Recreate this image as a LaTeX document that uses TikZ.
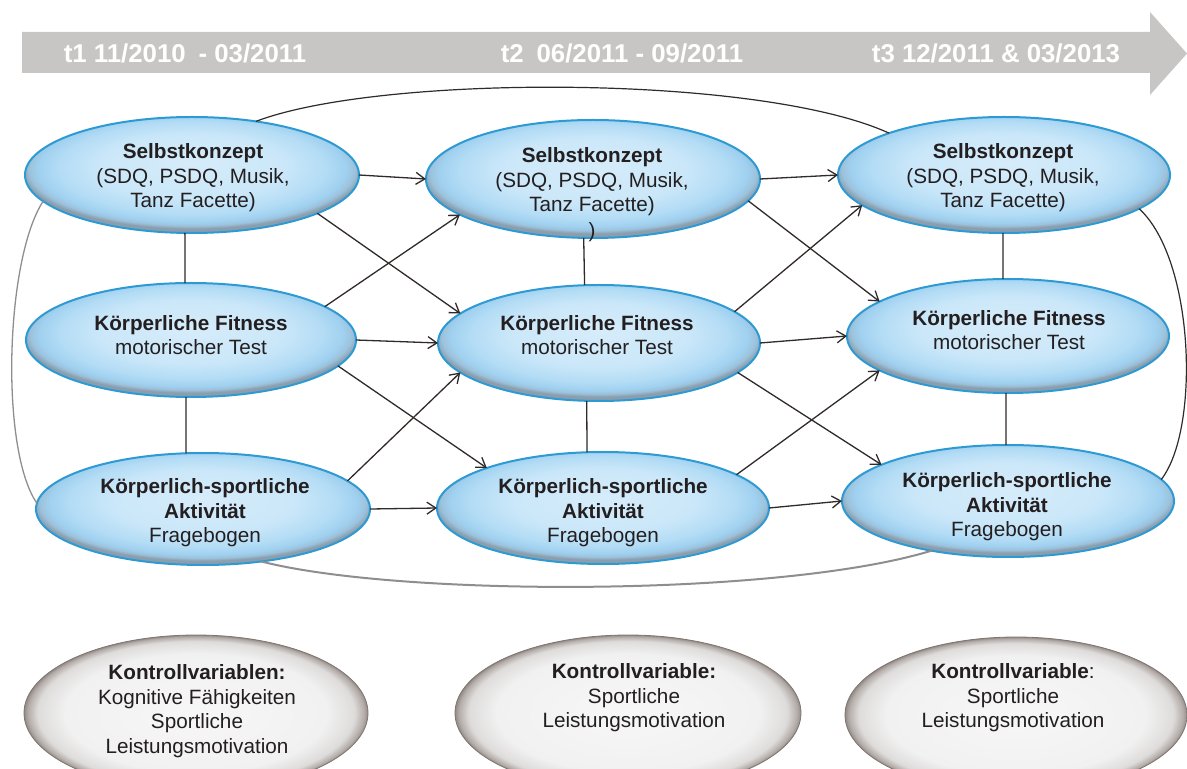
\documentclass[tikz,border=0pt]{standalone}
\usepackage{fontspec}
\setmainfont{Liberation Sans}
\usetikzlibrary{arrows.meta,shapes.geometric}

% palette
\definecolor{bandgray}{HTML}{C8C6C5}
\definecolor{txtcol}{HTML}{231F20}
\definecolor{linecol}{HTML}{302A28}
\definecolor{softgray}{HTML}{8E8E8E}
\definecolor{bBorder}{HTML}{2E9AD3}
\definecolor{bInner}{HTML}{D6ECFA}
\definecolor{bLight}{HTML}{CAE7F9}
\definecolor{bMid}{HTML}{B3DCF5}
\definecolor{bEdge}{HTML}{A0D1F0}
\definecolor{bRim}{HTML}{9CC2DC}
\definecolor{bShadow}{HTML}{8A9EAE}
\definecolor{gInner}{HTML}{F7F7F7}
\definecolor{gMid}{HTML}{F1F1F1}
\definecolor{gEdge}{HTML}{DEDCDB}
\definecolor{gDark}{HTML}{B5AEAA}
\definecolor{gShadow}{HTML}{837A76}
\definecolor{gBorder}{HTML}{7E7571}

% soft lit ellipses: light centre, shadowed lower rim
% (the central 50bp square of a shading is what fills the node)
\pgfdeclareradialshading{blueball}{\pgfpoint{0bp}{5bp}}{%
  color(0bp)=(bInner); color(14bp)=(bLight); color(20bp)=(bMid);
  color(23bp)=(bEdge); color(24.4bp)=(bRim); color(25.6bp)=(bShadow);
  color(50bp)=(bShadow)}
\pgfdeclareradialshading{grayball}{\pgfpoint{0bp}{0bp}}{%
  color(0bp)=(gInner); color(19bp)=(gMid); color(23bp)=(gEdge);
  color(24.4bp)=(gDark); color(25.3bp)=(gShadow); color(50bp)=(gShadow)}

\tikzset{
  blueell/.style={ellipse, draw=bBorder, line width=1pt, shading=blueball,
    inner sep=0pt, outer sep=0pt},
  grayell/.style={ellipse, draw=gBorder, line width=0.4pt, shading=grayball,
    inner sep=0pt, outer sep=0pt},
  txt/.style={align=center, text=txtcol, inner sep=0pt,
    font=\fontsize{10.35}{12.25}\selectfont},
  bandtxt/.style={text=white, inner sep=0pt,
    font=\fontsize{12.9}{15}\selectfont\bfseries},
  conn/.style={draw=linecol, line width=0.65pt,
    -{Straight Barb[length=4.5pt,width=6pt]}},
  link/.style={draw=linecol, line width=0.65pt},
  darkcurve/.style={draw=linecol, line width=0.6pt},
  softcurve/.style={draw=softgray, line width=0.65pt},
}

\begin{document}
\begin{tikzpicture}[x=0.5pt, y=-0.5pt]
\useasboundingbox (0,0) rectangle (1187,769);
\clip (0,0) rectangle (1187,769);

% time line banner
\fill[bandgray] (22,32) -- (1150,32) -- (1150,12) -- (1187,53.5)
  -- (1150,95) -- (1150,73) -- (22,73) -- cycle;
\node[bandtxt] (t1) at (185,53) {t1 11/2010\enspace - 03/2011};
\node[bandtxt] (t2) at (622,53) {t2\enspace 06/2011 - 09/2011};
\node[bandtxt] (t3) at (996,53) {t3 12/2011 \& 03/2013};

% construct ellipses (three waves)
\node[blueell, minimum width=167pt, minimum height=58pt] (E1) at (192,175) {};
\node[blueell, minimum width=167pt, minimum height=59pt] (E2) at (593,179) {};
\node[blueell, minimum width=166pt, minimum height=58pt] (E3) at (1004,175) {};
\node[blueell, minimum width=165pt, minimum height=57pt] (F1) at (191,340) {};
\node[blueell, minimum width=161pt, minimum height=58pt] (F2) at (599,343) {};
\node[blueell, minimum width=161pt, minimum height=57pt] (F3) at (1008,336) {};
\node[blueell, minimum width=167pt, minimum height=56pt] (A1) at (203,509) {};
\node[blueell, minimum width=166pt, minimum height=56pt] (A2) at (603,508) {};
\node[blueell, minimum width=166pt, minimum height=56pt] (A3) at (1008,501) {};

% control variable ellipses
\node[grayell, minimum width=172pt, minimum height=78pt] (K1) at (196,713) {};
\node[grayell, minimum width=173pt, minimum height=78pt] (K2) at (628,713) {};
\node[grayell, minimum width=171pt, minimum height=78pt] (K3) at (1016,715) {};

% labels
\node[txt] (E1t) at (193,178) {\textbf{Selbstkonzept}\\(SDQ, PSDQ, Musik,\\Tanz Facette)};
\node[txt] (E2t) at (592,182) {\textbf{Selbstkonzept}\\(SDQ, PSDQ, Musik,\\Tanz Facette)};
\node[txt] (E2p) at (592,232) {)};
\node[txt] (E3t) at (1003,178) {\textbf{Selbstkonzept}\\(SDQ, PSDQ, Musik,\\Tanz Facette)};
\node[txt] (F1t) at (191,335) {\textbf{Körperliche Fitness}\\motorischer Test};
\node[txt] (F2t) at (597,335) {\textbf{Körperliche Fitness}\\motorischer Test};
\node[txt] (F3t) at (1009,330) {\textbf{Körperliche Fitness}\\motorischer Test};
\node[txt] (A1t) at (205,513) {\textbf{Körperlich-sportliche}\\\textbf{Aktivität}\\Fragebogen};
\node[txt] (A2t) at (603,513) {\textbf{Körperlich-sportliche}\\\textbf{Aktivität}\\Fragebogen};
\node[txt] (A3t) at (1007,507) {\textbf{Körperlich-sportliche}\\\textbf{Aktivität}\\Fragebogen};
\node[txt] (K1t) at (197,711) {\textbf{Kontrollvariablen:}\\Kognitive Fähigkeiten\\Sportliche\\Leistungsmotivation};
\node[txt] (K2t) at (634,698) {\textbf{Kontrollvariable:}\\Sportliche\\Leistungsmotivation};
\node[txt] (K3t) at (1013,698) {\textbf{Kontrollvariable}:\\Sportliche\\Leistungsmotivation};

% stability paths
\draw[conn] (E1.east) -- (E2.west);
\draw[conn] (E2.east) -- (E3.west);
\draw[conn] (F1.east) -- (F2.west);
\draw[conn] (F2.east) -- (F3.west);
\draw[conn] (A1.east) -- (A2.west);
\draw[conn] (A2.east) -- (A3.west);

% cross-lagged paths
\draw[conn] (E1.-17) -- (F2.168);
\draw[conn] (F1.14) -- (E2.195);
\draw[conn] (F1.-10) -- (A2.161);
\draw[conn] (A1.11) -- (F2.192);
\draw[conn] (E2.-8) -- (F3.165);
\draw[conn] (F2.13) -- (E3.192);
\draw[conn] (F2.-12) -- (A3.164);
\draw[conn] (A2.14) -- (F3.195);

% within-wave correlations
\draw[link] (E1.-97) -- (F1.96);
\draw[link] (F1.-95) -- (A1.107);
\draw[link] (E2.-99) -- (F2.104);
\draw[link] (F2.-102) -- (A2.106);
\draw[link] (E3.-91) -- (F3.95);
\draw[link] (F3.-92) -- (A3.92);

% long-range links
\draw[darkcurve] (E1.40) .. controls (380,74) and (760,74) .. (E3.160);
\draw[darkcurve] (E3.-14) .. controls (1195,260) and (1200,430) .. (A3.8);
\draw[softcurve] (E1.190) .. controls (5,260) and (0,450) .. (A1.178);
\draw[softcurve, line width=1pt] (A1.-42) .. controls (400,597) and (780,597) .. (A3.-147);
\end{tikzpicture}
\end{document}
